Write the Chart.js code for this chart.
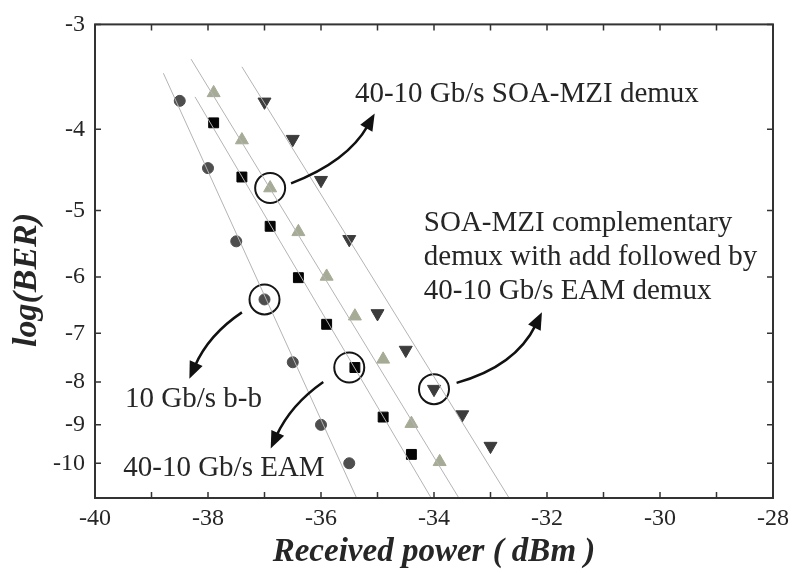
<!DOCTYPE html>
<html>
<head>
  <title>BER vs received power</title>
  <meta charset="UTF-8">
  <script src="https://cdn.jsdelivr.net/npm/chart.js"></script>
  <style>
    body { margin: 0; background: #fff; }
  </style>
</head>
<body>
  <canvas id="berChart" width="795" height="573"></canvas>

  <script>
    // measured points: received power (dBm) and log(BER)
    const bbX = [-38.5, -38, -37.5, -37, -36.5, -36, -35.5];
    const bbY = [-3.7, -4.45, -5.44, -6.38, -7.58, -9.0, -10.0];

    const eamX = [-37.9, -37.4, -36.9, -36.4, -35.9, -35.4, -34.9, -34.4];
    const eamY = [-3.93, -4.56, -5.22, -6.01, -6.83, -7.69, -8.81, -9.76];

    const mziX = [-37.9, -37.4, -36.9, -36.4, -35.9, -35.4, -34.9, -34.4, -33.9];
    const mziY = [-3.62, -4.12, -4.70, -5.30, -5.99, -6.68, -7.52, -8.97, -9.96];

    const compX = [-37, -36.5, -36, -35.5, -35, -34.5, -34, -33.5, -33];
    const compY = [-3.71, -4.11, -4.60, -5.41, -6.63, -7.33, -8.16, -8.75, -9.54];

    // fitted lines (end points)
    const fitX = [[-38.79, -35.37], [-38.23, -34.05], [-38.30, -33.56], [-37.40, -32.67]];
    const fitY = [[-3.43, -11], [-3.66, -11], [-3.30, -11], [-3.37, -11]];

    const xTicks = [-40, -39, -38, -37, -36, -35, -34, -33, -32, -31, -30, -29, -28];
    const yTicks = [-3, -4, -5, -6, -7, -8, -9, -10];

    const notes = [
      { text: ['40-10 Gb/s SOA-MZI demux'], x: -35.40, y: -3.64 },
      { text: ['SOA-MZI complementary', 'demux with add followed by', '40-10 Gb/s EAM demux'], x: -34.18, y: -5.18 },
      { text: ['10 Gb/s b-b'], x: -39.47, y: -8.40 },
      { text: ['40-10 Gb/s EAM'], x: -39.50, y: -10.15 }
    ];
    const arrows = [
      { from: [-36.53, -4.64], ctrl: [-35.53, -4.37], to: [-35.05, -3.83] },
      { from: [-37.40, -6.61], ctrl: [-37.99, -7.03], to: [-38.33, -7.93] },
      { from: [-35.96, -8.00], ctrl: [-36.54, -8.52], to: [-36.89, -9.60] },
      { from: [-33.60, -8.02], ctrl: [-32.56, -7.67], to: [-32.09, -6.61] }
    ];

    // BER axis: position is linear in log10(-log(BER))
    const toU = v => Math.log10(-v);
    const pts = (xs, ys) => xs.map((x, i) => ({ x: x, y: toU(ys[i]) }));

    const serif = '"Liberation Serif", "Times New Roman", serif';
    const ink = '#262626';

    const fitSets = fitX.map((xs, i) => ({
      type: 'line',
      data: pts(xs, fitY[i]),
      borderColor: '#b4b4b4',
      borderWidth: 1,
      pointRadius: 0,
      fill: false
    }));

    const rings = [
      { x: mziX[2], y: toU(mziY[2]) },
      { x: bbX[3], y: toU(bbY[3]) },
      { x: eamX[5] - 0.1, y: toU(eamY[5]) },
      { x: compX[6], y: toU(compY[6]) }
    ];

    const extras = {
      id: 'extras',
      afterDraw(chart) {
        const { ctx, chartArea: a, scales: { x, y } } = chart;
        const P = (dx, dy) => [x.getPixelForValue(dx), y.getPixelForValue(toU(dy))];
        ctx.save();

        // frame + inward ticks
        ctx.strokeStyle = '#333';
        ctx.lineWidth = 2;
        ctx.strokeRect(a.left, a.top, a.right - a.left, a.bottom - a.top);
        ctx.lineWidth = 1.5;
        ctx.beginPath();
        xTicks.forEach(t => {
          const px = x.getPixelForValue(t);
          ctx.moveTo(px, a.bottom); ctx.lineTo(px, a.bottom - 6);
          ctx.moveTo(px, a.top); ctx.lineTo(px, a.top + 6);
        });
        yTicks.forEach(t => {
          const py = y.getPixelForValue(toU(t));
          ctx.moveTo(a.left, py); ctx.lineTo(a.left + 6, py);
          ctx.moveTo(a.right, py); ctx.lineTo(a.right - 6, py);
        });
        ctx.stroke();

        // y title
        ctx.fillStyle = ink;
        ctx.font = 'italic bold 34px ' + serif;
        ctx.textAlign = 'center';
        ctx.textBaseline = 'middle';
        ctx.translate(27, 280);
        ctx.rotate(-Math.PI / 2);
        ctx.fillText('log(BER)', 0, 0);
        ctx.setTransform(1, 0, 0, 1, 0, 0);

        // notes
        ctx.font = '29px ' + serif;
        ctx.textAlign = 'left';
        notes.forEach(n => {
          const [px, py] = P(n.x, n.y);
          n.text.forEach((line, i) => ctx.fillText(line, px, py + i * 34));
        });

        // curved arrows
        ctx.strokeStyle = '#111';
        ctx.fillStyle = '#111';
        ctx.lineWidth = 2.5;
        arrows.forEach(ar => {
          const [x0, y0] = P(ar.from[0], ar.from[1]);
          const [cx, cy] = P(ar.ctrl[0], ar.ctrl[1]);
          const [x1, y1] = P(ar.to[0], ar.to[1]);
          const ang = Math.atan2(y1 - cy, x1 - cx);
          const len = 17, half = 7;
          const bx = x1 - Math.cos(ang) * len, by = y1 - Math.sin(ang) * len;
          ctx.beginPath();
          ctx.moveTo(x0, y0);
          ctx.quadraticCurveTo(cx, cy, bx + Math.cos(ang) * 3, by + Math.sin(ang) * 3);
          ctx.stroke();
          ctx.beginPath();
          ctx.moveTo(x1, y1);
          ctx.lineTo(bx + Math.sin(ang) * half, by - Math.cos(ang) * half);
          ctx.lineTo(bx - Math.sin(ang) * half, by + Math.cos(ang) * half);
          ctx.closePath();
          ctx.fill();
        });
        ctx.restore();
      }
    };

    const ctx = document.getElementById('berChart').getContext('2d');
    new Chart(ctx, {
      type: 'scatter',
      data: {
        datasets: [
          ...fitSets,
          { data: pts(bbX, bbY), pointStyle: 'circle', pointRadius: 5.5, backgroundColor: '#4e4e4e', borderColor: '#4e4e4e' },
          { data: pts(eamX, eamY), pointStyle: 'rect', pointRadius: 7, backgroundColor: '#050505', borderColor: '#050505' },
          { data: pts(mziX, mziY), pointStyle: 'triangle', pointRadius: 7.5, backgroundColor: '#a6ab96', borderColor: '#a6ab96' },
          { data: pts(compX, compY), pointStyle: 'triangle', rotation: 180, pointRadius: 7.5, backgroundColor: '#3c3c3c', borderColor: '#3c3c3c' },
          { data: rings, pointStyle: 'circle', pointRadius: 15, borderWidth: 2, borderColor: '#151515', backgroundColor: 'rgba(0,0,0,0)' }
        ]
      },
      options: {
        responsive: false,
        animation: false,
        devicePixelRatio: 1,
        layout: { padding: { top: 22, right: 16, bottom: 0, left: 0 } },
        plugins: { legend: { display: false }, tooltip: { enabled: false } },
        scales: {
          x: {
            type: 'linear',
            min: -40,
            max: -28,
            grid: { display: false, drawTicks: false },
            border: { display: false },
            afterBuildTicks: s => { s.ticks = xTicks.map(v => ({ value: v })); },
            afterFit: s => { s.height = 75; },
            ticks: {
              padding: 6,
              color: ink,
              font: { family: serif, size: 24 },
              callback: v => (v % 2 === 0 ? String(v) : '')
            },
            title: {
              display: true,
              text: 'Received power ( dBm )',
              color: ink,
              font: { family: serif, size: 33, style: 'italic', weight: 'bold' },
              padding: { top: 0, bottom: 1 }
            }
          },
          y: {
            type: 'linear',
            reverse: true,
            min: toU(-3),
            max: toU(-11),
            grid: { display: false, drawTicks: false },
            border: { display: false },
            afterBuildTicks: s => { s.ticks = yTicks.map(v => ({ value: toU(v) })); },
            afterFit: s => { s.width = 95; },
            ticks: {
              padding: 10,
              color: ink,
              font: { family: serif, size: 24 },
              callback: v => String(-Math.round(Math.pow(10, v)))
            }
          }
        }
      },
      plugins: [extras]
    });
  </script>
</body>
</html>
